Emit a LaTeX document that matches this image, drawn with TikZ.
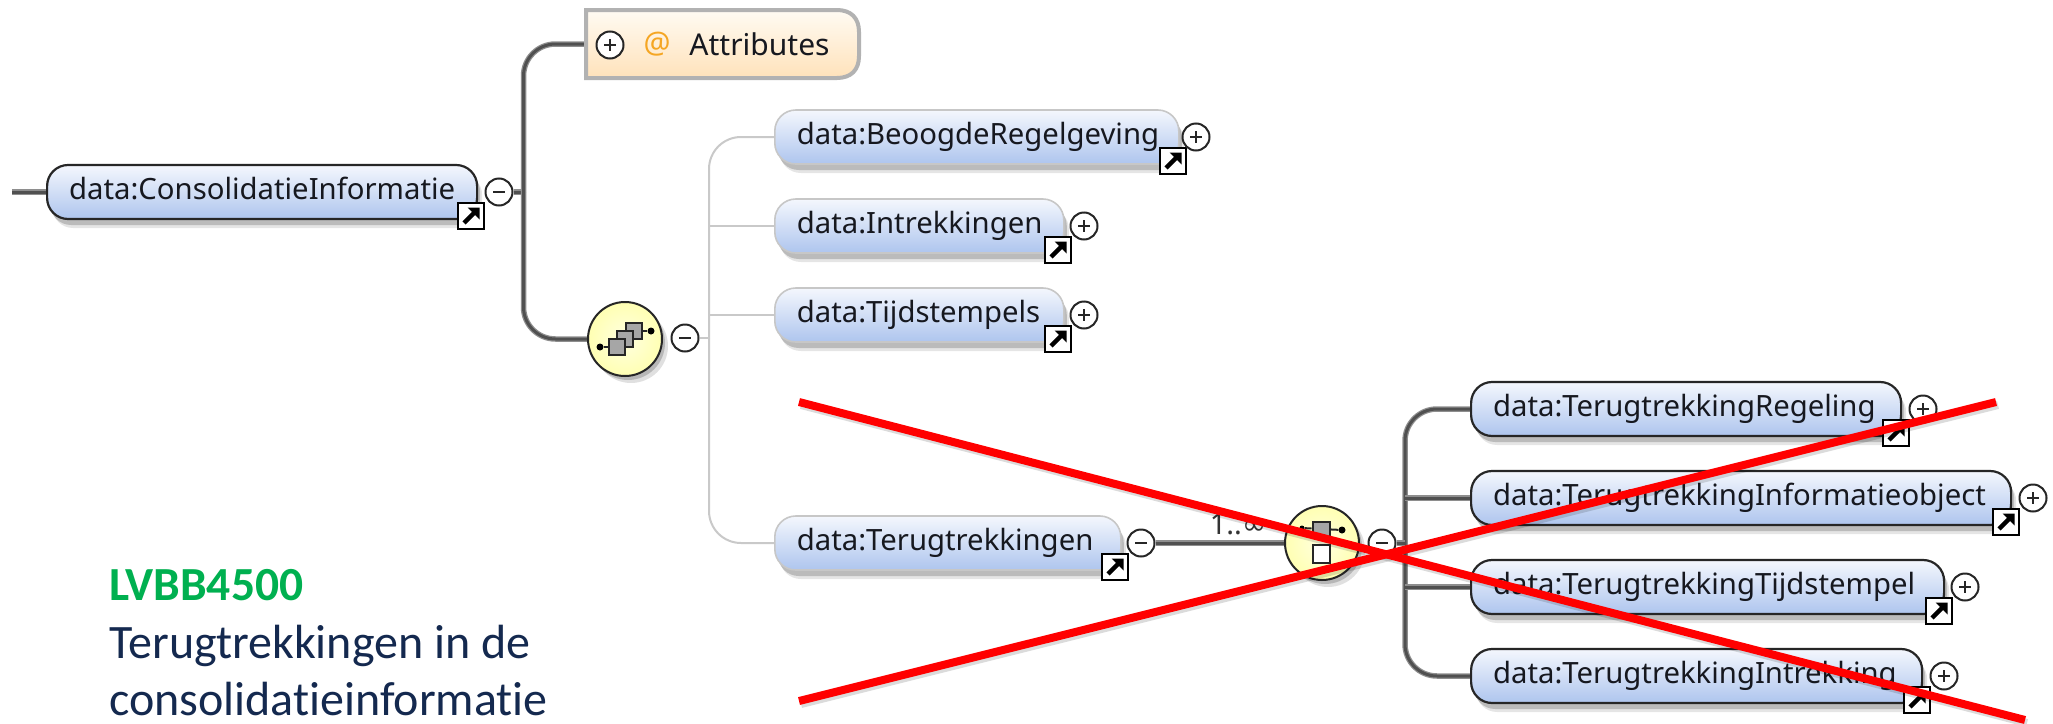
\documentclass[tikz,border=0pt]{standalone}
\usepackage{fontspec}
\setmainfont[Ligatures=NoCommon]{Carlito}
\newfontfamily\uifont{Noto Sans}
\newfontfamily\symfont{DejaVu Sans}
\usetikzlibrary{shadows,calc}
\pgfdeclarelayer{back}
\pgfsetlayers{back,main}
\definecolor{pilltop}{HTML}{F4F7FD}
\definecolor{pillbot}{HTML}{AEC5EE}
\definecolor{navy}{HTML}{14294F}
\definecolor{lvgreen}{HTML}{00B050}
\definecolor{crossred}{HTML}{FF0000}
\definecolor{connd}{HTML}{505050}
\definecolor{conne}{HTML}{8E8E8E}
\definecolor{connl}{HTML}{C9C9C9}
\definecolor{uiink}{HTML}{16181F}
\definecolor{attrtop}{HTML}{FFFBF3}
\definecolor{attrbot}{HTML}{FFE2BA}
\definecolor{attrink}{HTML}{F5A623}
\tikzset{
  softshadow/.style={
    general shadow={fill=black,opacity=.10,shadow xshift=5pt,shadow yshift=-9pt},
    general shadow={fill=black,opacity=.18,shadow xshift=3pt,shadow yshift=-6pt}},
  pillbase/.style={rectangle,rounded corners=21pt,top color=pilltop,bottom color=pillbot,
    softshadow,minimum height=54pt,inner ysep=0pt,inner xsep=22pt,align=left,
    text=uiink,font=\uifont\fontsize{29.3}{31}\selectfont,text height=21pt,text depth=7pt,anchor=west},
  pilldark/.style={pillbase,draw=black!85,line width=2.2pt},
  pilllight/.style={pillbase,draw=black!22,line width=1.6pt},
  btn/.style={circle,draw=black!85,fill=white,line width=2pt,minimum size=27pt,inner sep=0pt},
  btnmark/.style={draw=black!85,line width=2pt},
  linkicon/.style={rectangle,draw=black,fill=white,line width=2.6pt,minimum size=26pt,inner sep=0pt},
  linkarrow/.style={draw=black,line width=4.5pt},
  linkhead/.style={fill=black},
  conn/.style={draw=conne,line width=5.5pt,rounded corners=32pt,
    postaction={draw=connd,line width=3pt}},
  connthin/.style={draw=connl,line width=2pt,rounded corners=32pt},
  compositor/.style={circle,draw=black!85,line width=2pt,inner color=yellow!12!white,outer color=yellow!30!white,
    minimum size=74pt,inner sep=0pt,
    general shadow={fill=black,opacity=.12,shadow xshift=6pt,shadow yshift=-7pt},
    general shadow={fill=black,opacity=.18,shadow xshift=3pt,shadow yshift=-4pt}},
  gbox/.style={rectangle,draw=black!85,fill=black!35,line width=2pt,minimum width=16pt,minimum height=16pt,inner sep=0pt},
  wbox/.style={gbox,fill=white},
  icondot/.style={circle,fill=black,minimum size=7pt,inner sep=0pt},
  iconwire/.style={draw=black!85,line width=2pt},
  cross/.style={draw=crossred,line width=8pt},
  crossshadow/.style={draw=black,opacity=.14,line width=8pt},
  attrshape/.style={draw=black!30,line width=4pt,top color=attrtop,bottom color=attrbot},
  attranchor/.style={rectangle,minimum width=273pt,minimum height=68pt,inner sep=0pt,anchor=west},
  uitext/.style={anchor=center,inner sep=0pt,text=uiink,font=\uifont\fontsize{30}{32}\selectfont},
  capt/.style={anchor=base west,inner sep=0pt,font=\fontsize{48}{50}\selectfont,text=navy},
  capthead/.style={capt,font=\bfseries\fontsize{47.5}{50}\selectfont,text=lvgreen}
}
\newcommand{\linkicon}[3]{%
  \node[linkicon] (#1) at (#2-5,#3+24) {};
  \draw[linkarrow] ($(#1.center)+(-7,7)$) -- ($(#1.center)+(3,-3)$);
  \fill[linkhead] ($(#1.center)+(8.5,-8.5)$) -- ($(#1.center)+(8.5,3.5)$) -- ($(#1.center)+(-3.5,-8.5)$) -- cycle;
}
\newcommand{\minusbtn}[3]{%
  \node[btn] (#1) at (#2,#3) {};
  \draw[btnmark] ($(#1.center)+(-6,0)$) -- ($(#1.center)+(6,0)$);
}
\newcommand{\plusbtn}[3]{%
  \node[btn] (#1) at (#2,#3) {};
  \draw[btnmark] ($(#1.center)+(-6,0)$) -- ($(#1.center)+(6,0)$);
  \draw[btnmark] ($(#1.center)+(0,-6)$) -- ($(#1.center)+(0,6)$);
}
\begin{document}
\begin{tikzpicture}[x=1pt,y=-1pt]
\useasboundingbox (0,0) rectangle (2053,723);

\coordinate (stub) at (12,192);
\coordinate (busA) at (523.5,192);
\coordinate (busB) at (709,338);
\coordinate (busC) at (1405,543);

% --- Attributes
\path[attrshape] (586,10) -- (837,10) .. controls (851,10) and (859,18) .. (859,32)
  -- (859,56) .. controls (859,70) and (851,78) .. (837,78) -- (586,78) -- cycle;
\node[attranchor] (attr) at (586,44) {};
\plusbtn{attrbtn}{610}{45}
\node[uitext,text=attrink] (at) at (657,44) {@};
\node[uitext] (attrtxt) at (759.5,44) {Attributes};

% --- Root
\node[pilldark,minimum width=430pt,text width=386pt] (root) at (46,192) {data:ConsolidatieInformatie};
\linkicon{rootlink}{476}{192}
\minusbtn{rootbtn}{499}{192}

% --- Sequence compositor
\node[compositor] (seq) at (625,339) {};
\node[gbox] (sb3) at (634,331) {};
\node[gbox] (sb2) at (625,339) {};
\node[gbox] (sb1) at (617,347) {};
\node[icondot] (sdl) at (600,347) {};
\node[icondot] (sdr) at (651,331) {};
\draw[iconwire] (sdl) -- (sb1);
\draw[iconwire] (sb3) -- (sdr);
\minusbtn{seqbtn}{685}{338}

% --- Upper children
\node[pilllight,minimum width=404pt,text width=360pt] (beoogd) at (774,137) {data:BeoogdeRegelgeving};
\linkicon{beoogdlink}{1178}{137}
\plusbtn{beoogdbtn}{1196}{137}
\node[pilllight,minimum width=289pt,text width=245pt] (intrek) at (774,226) {data:Intrekkingen};
\linkicon{intreklink}{1063}{226}
\plusbtn{intrekbtn}{1084}{226}
\node[pilllight,minimum width=289pt,text width=245pt] (tijd) at (774,315) {data:Tijdstempels};
\linkicon{tijdlink}{1063}{315}
\plusbtn{tijdbtn}{1084}{315}
\node[pilllight,minimum width=346pt,text width=302pt] (terug) at (774,543) {data:Terugtrekkingen};
\linkicon{teruglink}{1120}{543}
\minusbtn{terugbtn}{1141}{543}

% --- Choice compositor
\node[compositor] (cho) at (1322,543) {};
\node[gbox,minimum width=17pt,minimum height=15pt] (cb1) at (1321,529) {};
\node[wbox,minimum width=17pt,minimum height=18pt] (cb2) at (1321,554) {};
\node[icondot,minimum size=5pt] (cdl) at (1302,528) {};
\node[icondot] (cdr) at (1342,530) {};
\draw[iconwire] (cdl) -- (cb1);
\draw[iconwire] (cb1) -- (cdr);
\minusbtn{chobtn}{1382}{543}
\node[anchor=base,inner sep=0pt,text=black!80,font=\uifont\fontsize{29}{31}\selectfont] (mult) at (1238,534) {1..{\symfont ∞}};

% --- Lower children
\node[pilldark,minimum width=430pt,text width=386pt] (q1n) at (1470,409) {data:TerugtrekkingRegeling};
\linkicon{q1link}{1901}{409}
\plusbtn{q1btn}{1923}{409}
\node[pilldark,minimum width=540pt,text width=496pt] (q2n) at (1470,498) {data:TerugtrekkingInformatieobject};
\linkicon{q2link}{2011}{498}
\plusbtn{q2btn}{2033}{498}
\node[pilldark,minimum width=473pt,text width=429pt] (q3n) at (1470,587) {data:TerugtrekkingTijdstempel};
\linkicon{q3link}{1944}{587}
\plusbtn{q3btn}{1965}{587}
\node[pilldark,minimum width=451pt,text width=407pt] (q4n) at (1470,676) {data:TerugtrekkingIntrekking};
\linkicon{q4link}{1922}{676}
\plusbtn{q4btn}{1944}{676}

% --- Connectors, under everything
\begin{pgfonlayer}{back}
\fill[white] (0,0) rectangle (2053,723);
\draw[connthin] (busB) |- (beoogd.west);
\draw[connthin] (busB) |- (terug.west);
\draw[connthin] (busB |- intrek.west) -- (intrek.west);
\draw[connthin] (busB |- tijd.west) -- (tijd.west);
\draw[connthin] (seqbtn.east) -- (busB);

\draw[conn] (stub) -- (root.west);
\draw[conn] (rootbtn.east) -- (busA);
\draw[conn] (busA) |- (attr.west);
\draw[conn] (busA) |- (seq.west);

\draw[conn] (terugbtn.east) -- (cho.west);

\draw[conn] (busC) |- (q1n.west);
\draw[conn] (busC) |- (q4n.west);
\draw[conn] (busC |- q2n.west) -- (q2n.west);
\draw[conn] (busC |- q3n.west) -- (q3n.west);
\draw[conn] (chobtn.east) -- (busC);
\end{pgfonlayer}

% --- Cross
\coordinate (xa1) at (799,402);
\coordinate (xa2) at (2025,720);
\coordinate (xb1) at (799,701);
\coordinate (xb2) at (1996,402);
\draw[crossshadow] ($(xa1)+(2,3)$) -- ($(xa2)+(2,3)$);
\draw[crossshadow] ($(xb1)+(2,3)$) -- ($(xb2)+(2,3)$);
\draw[cross] (xa1) -- (xa2);
\draw[cross] (xb1) -- (xb2);

% --- Caption
\node[capthead] (c1) at (109,600) {LVBB4500};
\node[capt] (c2) at (109,658) {Terugtrekkingen in de};
\node[capt] (c3) at (109,715) {consolidatieinformatie};
\end{tikzpicture}
\end{document}
